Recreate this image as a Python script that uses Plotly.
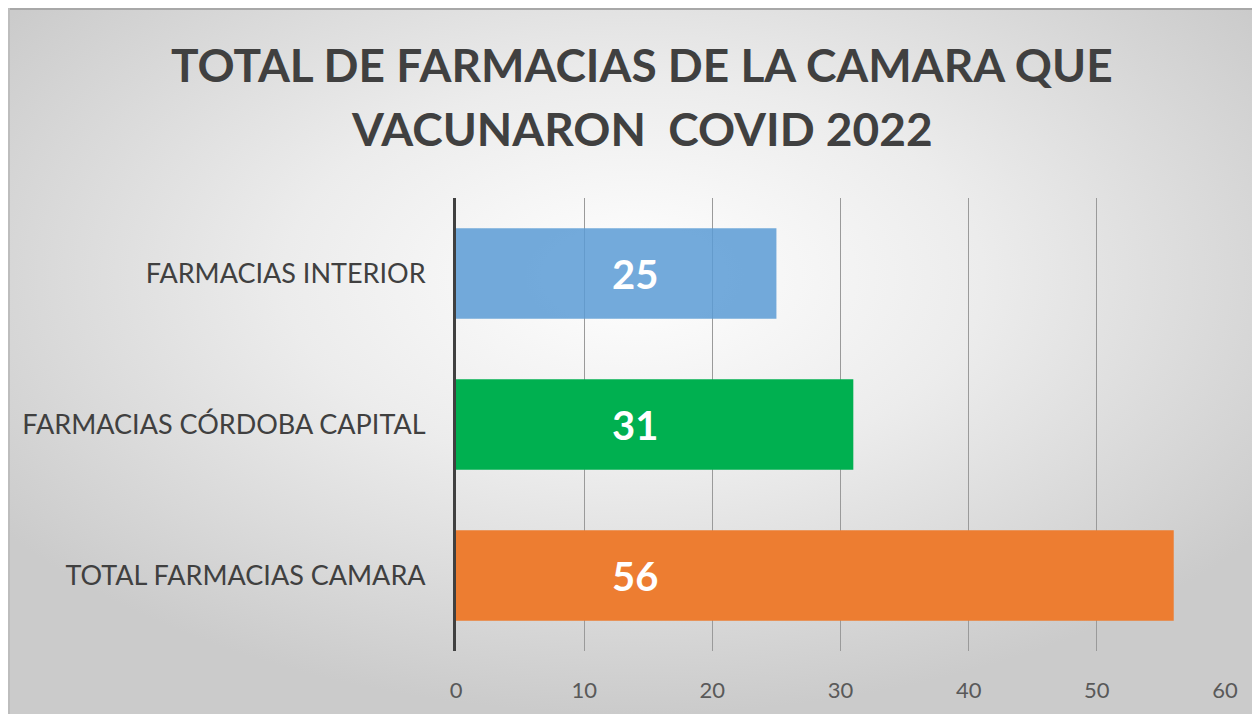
import plotly.graph_objects as go
import urllib.parse

categories = ["FARMACIAS INTERIOR", "FARMACIAS CÓRDOBA CAPITAL", "TOTAL FARMACIAS CAMARA"]
values = [25, 31, 56]
bar_colors = ["rgba(91,155,213,0.85)", "#00B050", "#ED7D31"]
x_ticks = [0, 10, 20, 30, 40, 50, 60]
title_lines = ["TOTAL DE FARMACIAS DE LA CAMARA QUE", "VACUNARON  COVID 2022"]
label_x = 14  # data-label anchor along value axis

W, H = 1252, 706
L, R, T, B = 448, 35, 190, 63
pw, ph = W - L - R, H - T - B

def px_to_paper_x(px):
    return (px - L) / pw

def px_to_paper_y(py):
    return (H - B - py) / ph

svg = (
    '<svg xmlns="http://www.w3.org/2000/svg" width="1252" height="706" viewBox="0 0 1252 706" preserveAspectRatio="none">'
    '<defs><radialGradient id="g" cx="50%" cy="38%" r="62%">'
    '<stop offset="0%" stop-color="#ffffff"/>'
    '<stop offset="45%" stop-color="#ececec"/>'
    '<stop offset="100%" stop-color="#cbcbcb"/>'
    '</radialGradient></defs>'
    '<rect width="1252" height="706" fill="url(#g)"/></svg>'
)
svg_uri = "data:image/svg+xml;charset=utf-8," + urllib.parse.quote(svg)

fig = go.Figure()
fig.add_trace(go.Bar(
    y=categories, x=values, orientation="h",
    marker=dict(color=bar_colors, line=dict(width=0)),
    hoverinfo="x+y",
))

for c, v in zip(categories, values):
    fig.add_annotation(
        x=label_x, y=c, xref="x", yref="y", text=f"<b>{v}</b>", showarrow=False,
        font=dict(family="Lato", size=40, color="white"),
    )

# two-line title
for line, ypx in zip(title_lines, [56, 120.5]):
    fig.add_annotation(
        x=px_to_paper_x(634), y=px_to_paper_y(ypx), xref="paper", yref="paper",
        xanchor="center", yanchor="middle", showarrow=False, text=f"<b>{line}</b>",
        font=dict(family="Lato", size=46, color="#404040"),
    )

fig.add_layout_image(dict(
    source=svg_uri, xref="paper", yref="paper",
    x=px_to_paper_x(0), y=px_to_paper_y(0),
    sizex=px_to_paper_x(W) - px_to_paper_x(0),
    sizey=px_to_paper_y(0) - px_to_paper_y(H),
    sizing="stretch", xanchor="left", yanchor="top", layer="below",
))

fig.add_shape(type="line", xref="paper", yref="paper",
              x0=px_to_paper_x(0), x1=px_to_paper_x(W), y0=px_to_paper_y(1), y1=px_to_paper_y(1),
              line=dict(color="#a8a8a8", width=2))
fig.add_shape(type="line", xref="paper", yref="paper",
              x0=px_to_paper_x(1), x1=px_to_paper_x(1), y0=px_to_paper_y(0), y1=px_to_paper_y(H),
              line=dict(color="#bdbdbd", width=2))

fig.update_layout(
    width=W, height=H,
    margin=dict(l=L, r=R, t=T, b=B),
    paper_bgcolor="white", plot_bgcolor="rgba(0,0,0,0)",
    bargap=0.4,
    showlegend=False,
    xaxis=dict(range=[0, 60], tickvals=x_ticks, showgrid=True, gridcolor="#9a9a9a", gridwidth=1,
               zeroline=False, showline=False, ticks="", ticklabelstandoff=24,
               tickfont=dict(family="Lato", size=22, color="#595959"), fixedrange=True),
    yaxis=dict(categoryorder="array", categoryarray=categories[::-1],
               showline=True, linecolor="#404040", linewidth=3, ticks="", ticklabelstandoff=22,
               tickfont=dict(family="Lato", size=27, color="#404040"), showgrid=False, fixedrange=True),
)

fig.write_html("out.html")
